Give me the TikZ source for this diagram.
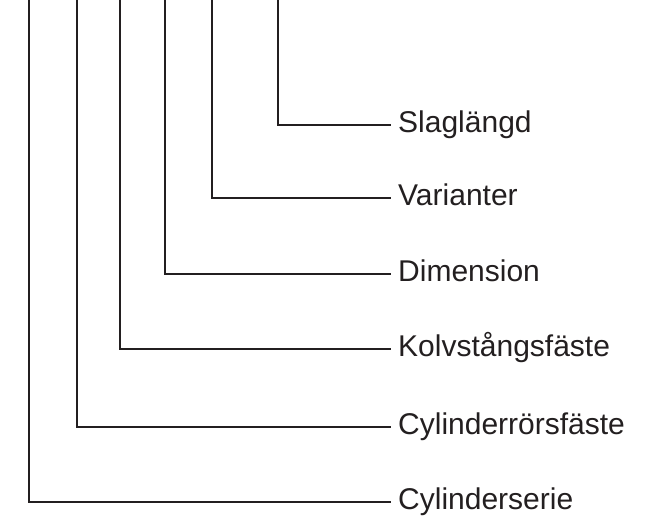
\documentclass[tikz,border=0pt]{standalone}
\usepackage{fontspec}
\setmainfont{Liberation Sans}
\definecolor{ink}{HTML}{231F20}
\begin{document}
\begin{tikzpicture}[x=1pt,y=-1pt,
  lead/.style={draw=ink,line width=2.1pt},
  lbl/.style={anchor=base west,inner sep=0pt,font=\fontsize{30}{36}\selectfont,text=ink}]
\useasboundingbox (0,0) rectangle (647,515);
% top ends of leaders
\coordinate (t1) at (29,-2);
\coordinate (t2) at (77,-2);
\coordinate (t3) at (120,-2);
\coordinate (t4) at (165,-2);
\coordinate (t5) at (212,-2);
\coordinate (t6) at (278,-2);
% right ends
\coordinate (e1) at (391,502);
\coordinate (e2) at (391,427);
\coordinate (e3) at (391,349);
\coordinate (e4) at (391,274);
\coordinate (e5) at (391,198);
\coordinate (e6) at (391,125);
% labels
\node[lbl] (l1) at (398,509.5) {Cylinderserie};
\node[lbl] (l2) at (398,434.5) {Cylinderrörsfäste};
\node[lbl] (l3) at (398,356.5) {Kolvstångsfäste};
\node[lbl] (l4) at (398,281.5) {Dimension};
\node[lbl] (l5) at (398,205.5) {Varianter};
\node[lbl] (l6) at (398,132.5) {Slaglängd};
\foreach \i in {1,...,6} {\draw[lead] (t\i) |- (e\i);}
\end{tikzpicture}
\end{document}
